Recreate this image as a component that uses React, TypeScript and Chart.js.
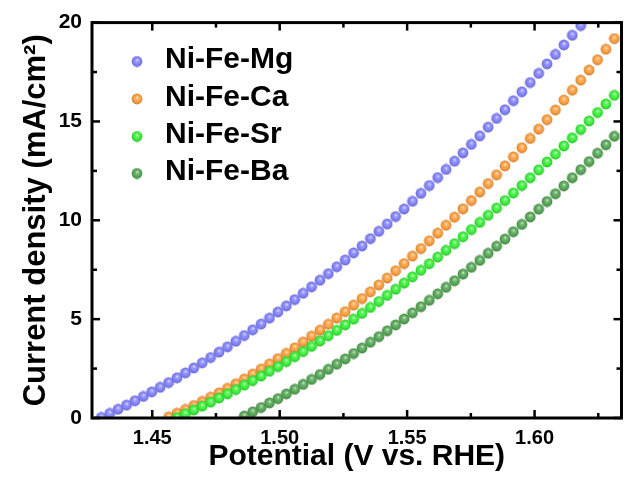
import React, { useEffect, useRef } from 'react';
import { Chart, registerables } from 'chart.js';

Chart.register(...registerables);

// Shared potential grid (V vs. RHE)
const potential = [
  1.4300, 1.4333, 1.4366, 1.4399, 1.4432, 1.4465, 1.4498, 1.4531, 1.4564, 1.4597,
  1.4630, 1.4663, 1.4696, 1.4729, 1.4762, 1.4795, 1.4828, 1.4861, 1.4894, 1.4927,
  1.4960, 1.4993, 1.5026, 1.5059, 1.5092, 1.5125, 1.5158, 1.5191, 1.5224, 1.5257,
  1.5290, 1.5323, 1.5356, 1.5389, 1.5422, 1.5455, 1.5488, 1.5521, 1.5554, 1.5587,
  1.5620, 1.5653, 1.5686, 1.5719, 1.5752, 1.5785, 1.5818, 1.5851, 1.5884, 1.5917,
  1.5950, 1.5983, 1.6016, 1.6049, 1.6082, 1.6115, 1.6148, 1.6181, 1.6214, 1.6247,
  1.6280, 1.6313,
];

const seriesNames = ['Ni-Fe-Mg', 'Ni-Fe-Ca', 'Ni-Fe-Sr', 'Ni-Fe-Ba'];
const seriesColors = ['#8484ff', '#ffa040', '#3cf03c', '#58a858'];

// Current density (mA/cm2); each series starts at the given index of `potential`
const mgStart = 0;
const mgCurrent = [
  0.03, 0.23, 0.44, 0.65, 0.87, 1.09, 1.32, 1.55, 1.79, 2.03,
  2.28, 2.53, 2.79, 3.06, 3.33, 3.60, 3.88, 4.17, 4.46, 4.75,
  5.05, 5.36, 5.67, 5.99, 6.31, 6.63, 6.97, 7.30, 7.65, 7.99,
  8.35, 8.70, 9.07, 9.44, 9.81, 10.19, 10.57, 10.96, 11.36, 11.76,
  12.16, 12.57, 12.99, 13.41, 13.84, 14.27, 14.71, 15.15, 15.59, 16.05,
  16.50, 16.97, 17.43, 17.91, 18.39, 18.87, 19.36, 19.85, 20.35,
];
const caStart = 8;
const caCurrent = [
  0.05, 0.24, 0.43, 0.63, 0.84, 1.05, 1.27, 1.50, 1.73, 1.97,
  2.22, 2.47, 2.73, 3.00, 3.27, 3.55, 3.84, 4.14, 4.44, 4.74,
  5.06, 5.38, 5.71, 6.04, 6.38, 6.73, 7.08, 7.45, 7.81, 8.19,
  8.57, 8.96, 9.35, 9.75, 10.16, 10.58, 11.00, 11.43, 11.86, 12.30,
  12.75, 13.21, 13.67, 14.14, 14.61, 15.09, 15.58, 16.08, 16.58, 17.09,
  17.60, 18.12, 18.65, 19.19,
];
const srStart = 9;
const srCurrent = [
  0.02, 0.21, 0.40, 0.60, 0.80, 1.01, 1.22, 1.44, 1.66, 1.89,
  2.12, 2.36, 2.60, 2.85, 3.10, 3.36, 3.62, 3.89, 4.16, 4.43,
  4.71, 5.00, 5.29, 5.59, 5.89, 6.20, 6.51, 6.82, 7.14, 7.47,
  7.80, 8.14, 8.48, 8.82, 9.17, 9.53, 9.89, 10.25, 10.62, 11.00,
  11.38, 11.76, 12.15, 12.55, 12.95, 13.35, 13.76, 14.17, 14.59, 15.02,
  15.45, 15.88, 16.32,
];
const baStart = 17;
const baCurrent = [
  0.10, 0.31, 0.53, 0.76, 0.98, 1.22, 1.45, 1.70, 1.95, 2.20,
  2.46, 2.72, 2.99, 3.26, 3.54, 3.83, 4.11, 4.41, 4.71, 5.01,
  5.32, 5.63, 5.95, 6.28, 6.61, 6.94, 7.28, 7.62, 7.97, 8.33,
  8.69, 9.05, 9.42, 9.79, 10.17, 10.56, 10.95, 11.34, 11.74, 12.15,
  12.56, 12.97, 13.39, 13.82, 14.25,
];

const xTickValues = [1.45, 1.475, 1.5, 1.525, 1.55, 1.575, 1.6, 1.625];
const xTickLabels = ['1.45', '', '1.50', '', '1.55', '', '1.60', ''];
const yTickValues = [0, 2.5, 5, 7.5, 10, 12.5, 15, 17.5, 20];
const yTickLabels = ['0', '', '5', '', '10', '', '15', '', '20'];

const xTitle = 'Potential (V vs. RHE)';
const yTitle = 'Current density (mA/cm\u00B2)';

const FONT = '"Liberation Sans", Arial, sans-serif';

function shade(hex: string, f: number): string {
  const n = parseInt(hex.slice(1), 16);
  let r = (n >> 16) & 255, g = (n >> 8) & 255, b = n & 255;
  if (f >= 0) {
    r = r + (255 - r) * f; g = g + (255 - g) * f; b = b + (255 - b) * f;
  } else {
    r = r * (1 + f); g = g * (1 + f); b = b * (1 + f);
  }
  return `rgb(${Math.round(r)},${Math.round(g)},${Math.round(b)})`;
}

function makeSphere(color: string): HTMLCanvasElement {
  const s = 12;
  const c = document.createElement('canvas');
  c.width = s; c.height = s;
  const g = c.getContext('2d')!;
  const grad = g.createRadialGradient(6.3, 4.4, 0.2, 6, 6, 5.6);
  grad.addColorStop(0, shade(color, 0.75));
  grad.addColorStop(0.25, shade(color, 0.2));
  grad.addColorStop(0.6, color);
  grad.addColorStop(1, shade(color, -0.22));
  g.fillStyle = grad;
  g.beginPath();
  g.arc(6, 6, 5.4, 0, Math.PI * 2);
  g.fill();
  return c;
}

export default function App() {
  const ref = useRef<HTMLCanvasElement | null>(null);

  useEffect(() => {
    if (!ref.current) return;
    const spheres = seriesColors.map(makeSphere);
    const all = [
      { v: mgCurrent, s: mgStart },
      { v: caCurrent, s: caStart },
      { v: srCurrent, s: srStart },
      { v: baCurrent, s: baStart },
    ];
    const datasets = all.map((d, i) => ({
      label: seriesNames[i],
      data: d.v.map((y, j) => ({ x: potential[j + d.s], y })),
      pointStyle: spheres[i] as any,
      pointRadius: 5.5,
      backgroundColor: seriesColors[i],
      borderColor: seriesColors[i],
      showLine: false,
      clip: 0,
      order: 4 - i,
    }));

    const framePlugin = {
      id: 'frame',
      afterDatasetsDraw(chart: any) {
        const { ctx, chartArea } = chart;
        const { left, right, top, bottom } = chartArea;
        const xs = chart.scales.x, ys = chart.scales.y;
        ctx.save();
        ctx.strokeStyle = '#000';
        ctx.lineCap = 'butt';
        ctx.lineWidth = 2.5;
        const line = (a: number, b: number, c: number, d: number) => {
          ctx.beginPath(); ctx.moveTo(a, b); ctx.lineTo(c, d); ctx.stroke();
        };
        xTickValues.forEach((v, i) => {
          const px = xs.getPixelForValue(v);
          const len = xTickLabels[i] ? 8 : 5;
          line(px, bottom, px, bottom - len);
          line(px, top, px, top + len);
        });
        yTickValues.forEach((v, i) => {
          const py = ys.getPixelForValue(v);
          const len = yTickLabels[i] ? 8 : 5;
          line(left, py, left + len, py);
          line(right, py, right - len, py);
        });
        ctx.lineWidth = 3;
        ctx.strokeRect(left, top, right - left, bottom - top);
        ctx.restore();
      },
      afterDraw(chart: any) {
        const { ctx } = chart;
        ctx.save();
        ctx.font = `bold 30px ${FONT}`;
        ctx.fillStyle = '#000';
        ctx.textBaseline = 'alphabetic';
        ctx.textAlign = 'left';
        const rows = [68, 105.5, 143, 180];
        chart.data.datasets.forEach((ds: any, i: number) => {
          ctx.drawImage(spheres[i], 137 - 6, rows[i] - 6.5 - 6);
          ctx.fillText(ds.label, 165, rows[i]);
        });
        ctx.restore();
      },
    };

    const chart = new Chart(ref.current, {
      type: 'scatter',
      data: { datasets: datasets as any },
      plugins: [framePlugin as any],
      options: {
        animation: false,
        responsive: false,
        devicePixelRatio: 1,
        layout: { padding: { top: 22, left: 0, right: 0, bottom: 0 } },
        plugins: { legend: { display: false }, tooltip: { enabled: false } },
        scales: {
          x: {
            type: 'linear',
            min: 1.42636,
            max: 1.63411,
            afterBuildTicks: (s: any) => { s.ticks = xTickValues.map((value) => ({ value })); },
            afterFit: (s: any) => { s.height = 61; },
            grid: { display: false, drawTicks: false },
            border: { display: false },
            ticks: {
              autoSkip: false,
              maxRotation: 0,
              padding: 8,
              color: '#000',
              font: { family: FONT, size: 20, weight: 'bold' },
              callback: (_v: any, i: number) => xTickLabels[i],
            },
            title: {
              display: true,
              text: xTitle,
              color: '#000',
              font: { family: FONT, size: 30, weight: 'bold' },
              padding: { top: 0, bottom: 4 },
            },
          },
          y: {
            type: 'linear',
            min: 0,
            max: 20,
            afterBuildTicks: (s: any) => { s.ticks = yTickValues.map((value) => ({ value })); },
            afterFit: (s: any) => { s.width = 92; },
            grid: { display: false, drawTicks: false },
            border: { display: false },
            ticks: {
              autoSkip: false,
              padding: 10,
              color: '#000',
              font: { family: FONT, size: 21, weight: 'bold' },
              callback: (_v: any, i: number) => yTickLabels[i],
            },
            title: {
              display: true,
              text: yTitle,
              color: '#000',
              font: { family: FONT, size: 31, weight: 'bold' },
              padding: { top: 18, bottom: 0 },
            },
          },
        },
      } as any,
    });
    return () => chart.destroy();
  }, []);

  return (
    <div style={{ position: 'fixed', left: 0, top: 0, width: 624, height: 479, overflow: 'hidden', background: '#fff' }}>
      <canvas ref={ref} width={628} height={479} style={{ display: 'block', width: 628, height: 479 }} />
    </div>
  );
}
